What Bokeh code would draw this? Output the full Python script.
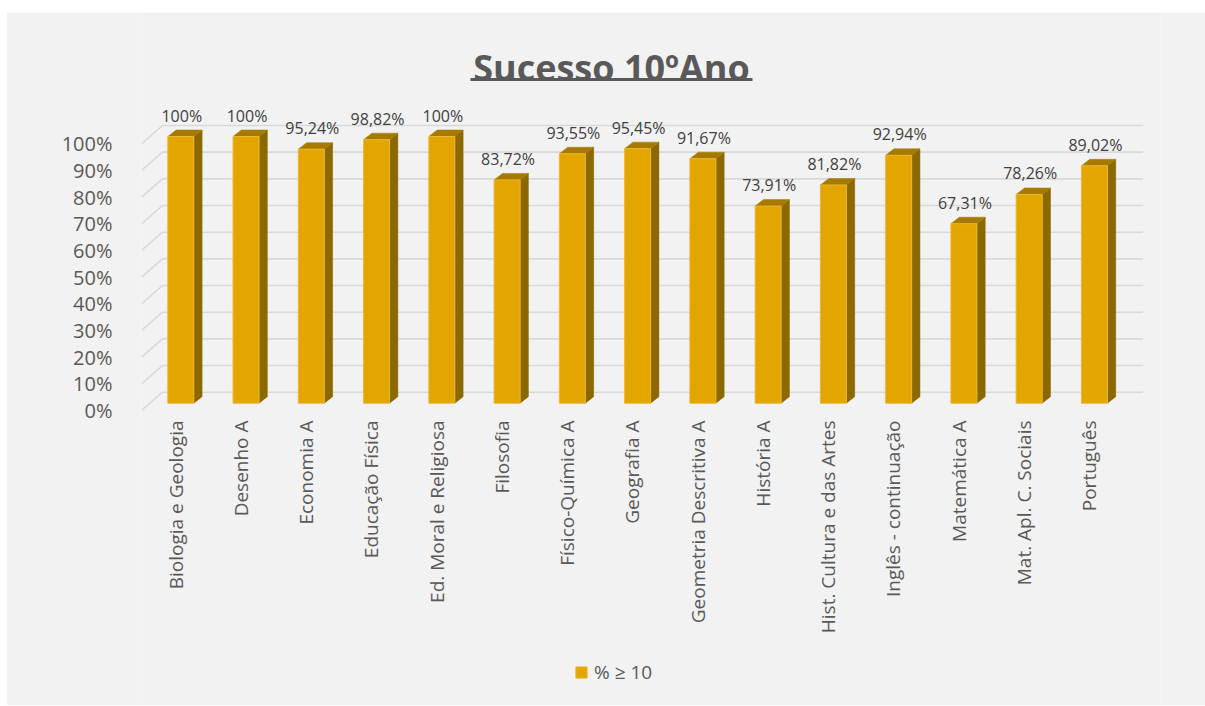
import numpy as np
from bokeh.plotting import figure
from bokeh.models import Range1d, FixedTicker, Legend, LegendItem, Label
from bokeh.core.properties import value
from bokeh.embed import file_html
from bokeh.resources import INLINE

# ---------------- data ----------------
categories = [
    "Biologia e Geologia", "Desenho A", "Economia A", "Educação Física",
    "Ed. Moral e Religiosa", "Filosofia", "Físico-Química A", "Geografia A",
    "Geometria Descritiva A", "História A", "Hist. Cultura e das Artes",
    "Inglês - continuação", "Matemática A", "Mat. Apl. C. Sociais", "Português",
]
values = [100, 100, 95.24, 98.82, 100, 83.72, 93.55, 95.45, 91.67,
          73.91, 81.82, 92.94, 67.31, 78.26, 89.02]
y_ticks = [0, 10, 20, 30, 40, 50, 60, 70, 80, 90, 100]
y_tick_labels = [f"{t}%" for t in y_ticks]
title_text = "Sucesso 10ºAno"
series_name = "% ≥ 10"

# ---------------- style / geometry ----------------
FONT = "Open Sans"
GREY = "#595959"
PXX = 65.26   # pixels per category
PXY = 2.667   # pixels per percent


def sx(px):
    return px / PXX


def sy(px):
    return px / PXY


W, H = 1199, 693
FL = 135
fw = 1019
FR = W - FL - fw

x0 = -sx(34)
p = figure(width=W, height=H, output_backend="svg", toolbar_location=None,
           x_range=Range1d(x0, x0 + sx(fw)),
           y_range=Range1d(sy(410 - (12 + H)), sy(410 - 12)),
           min_border_left=FL, min_border_right=FR,
           min_border_top=0, min_border_bottom=0)
p.margin = (12, 0, 0, 6)
p.background_fill_color = "#f2f2f2"
p.border_fill_color = "#f2f2f2"
p.outline_line_color = None
p.grid.visible = False
p.xaxis.visible = False

n = len(categories)
vals = np.array(values, dtype=float)
idx = np.arange(n, dtype=float)

# back wall gridlines and side diagonals
dxb, dyb = sx(21), sy(18.3)
xb0 = x0 + dxb
xb1 = (n - 1) + sx(54)
ticks = np.array(y_ticks, dtype=float)
p.segment(x0=[xb0] * len(ticks), y0=ticks + dyb, x1=[xb1] * len(ticks), y1=ticks + dyb,
          line_color="#d9d9d9", line_width=1.6)
p.segment(x0=[x0] * len(ticks), y0=ticks, x1=[xb0] * len(ticks), y1=ticks + dyb,
          line_color="#d9d9d9", line_width=1.6)

# 3D bars
left = idx + sx(-7.7)
right = left + sx(26)
base = sy(7.3)
top = base + vals
sdx, sdy = sx(8.3), sy(6.5)

side_xs = [[r, r + sdx, r + sdx, r] for r in right]
side_ys = [[base, base + sdy, t + sdy, t] for t in top]
p.patches(side_xs, side_ys, fill_color="#8c6800", line_color="#8c6800", line_width=0.5)

top_xs = [[l, r, r + sdx, l + sdx] for l, r in zip(left, right)]
top_ys = [[t, t, t + sdy, t + sdy] for t in top]
p.patches(top_xs, top_ys, fill_color="#a67a00", line_color="#a67a00", line_width=0.5)

front = p.quad(left=left, right=right, bottom=base, top=top,
               fill_color="#e3a600", line_color="#ebb634", line_width=1)


# data labels
def fmt(v):
    if float(v).is_integer():
        return f"{int(v)}%"
    return f"{v:.2f}".replace(".", ",") + "%"


p.text(x=(left + right) / 2 + sx(1), y=top + sdy + sy(14.5), text=[fmt(v) for v in values],
       text_font=value(FONT), text_font_size="16px", text_color="#404040",
       text_align="center", text_baseline="middle")

# category labels (rotated, under each bar)
p.text(x=idx, y=[-sy(10)] * n, text=categories, angle=np.pi / 2,
       text_font=value(FONT), text_font_size="19px", text_color=GREY,
       text_align="right", text_baseline="middle")

# y axis
p.yaxis.ticker = FixedTicker(ticks=y_ticks)
p.yaxis.major_label_overrides = {t: l for t, l in zip(y_ticks, y_tick_labels)}
p.yaxis.major_label_text_font = FONT
p.yaxis.major_label_text_font_size = "20px"
p.yaxis.major_label_text_color = GREY
p.yaxis.major_label_standoff = 23
p.yaxis.axis_line_color = None
p.yaxis.major_tick_line_color = None
p.yaxis.minor_tick_line_color = None

# title with underline
p.add_layout(Label(x=sx(611 - 175), y=sy(410 - 66.7), text=title_text,
                   text_font=FONT, text_font_style="bold", text_font_size="36px",
                   text_color=GREY, text_align="center", text_baseline="alphabetic"))
p.segment(x0=[sx(470 - 175)], y0=[sy(410 - 79)], x1=[sx(752 - 175)], y1=[sy(410 - 79)],
          line_color=GREY, line_width=3)

# legend
legend = Legend(items=[LegendItem(label=series_name, renderers=[front])],
                location=(433, (12 + H) - 685), orientation="horizontal",
                background_fill_alpha=0, border_line_color=None,
                padding=0, margin=0, glyph_width=14, glyph_height=14,
                label_standoff=6, label_height=20,
                label_text_font=FONT, label_text_font_size="19px",
                label_text_color=GREY)
p.add_layout(legend)

open("out.html", "w").write(file_html(p, INLINE))
